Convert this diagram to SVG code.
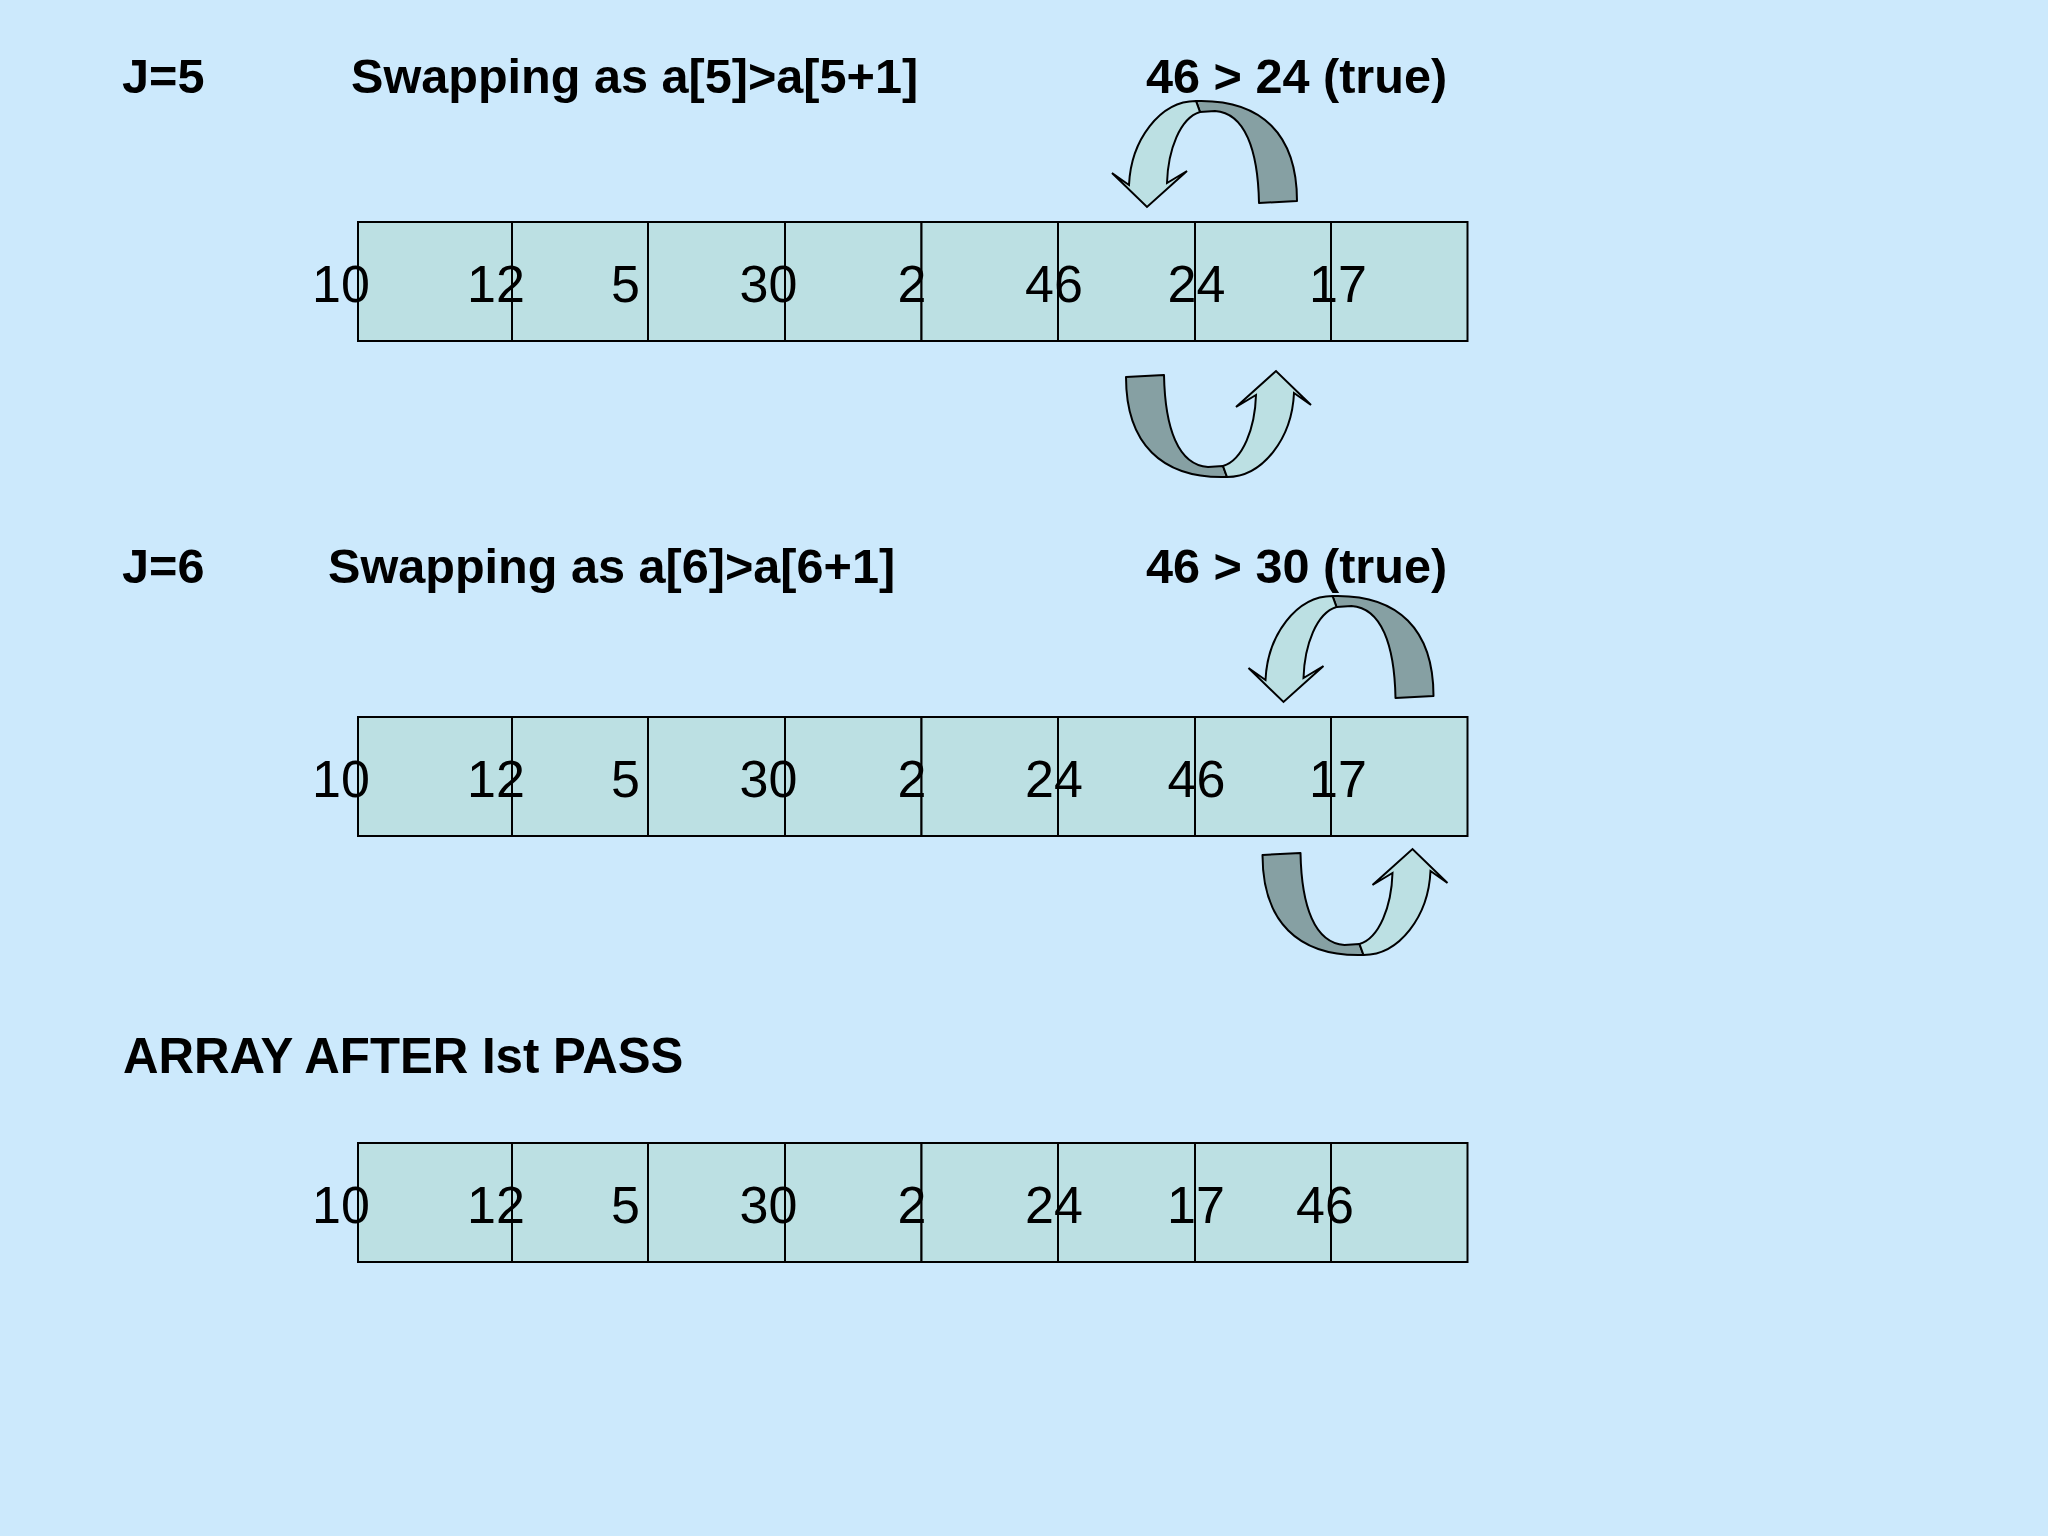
<svg xmlns="http://www.w3.org/2000/svg" width="2048" height="1536" viewBox="0 0 2048 1536">
<defs>
<style>
.bg{fill:#CCE9FC}
.cell{fill:#BCE0E3;stroke:#000;stroke-width:2}
.num{font-family:"Liberation Sans",Arial,sans-serif;font-size:52px;fill:#000}
.head{font-family:"Liberation Sans",Arial,sans-serif;font-size:48.6px;font-weight:bold;fill:#000}
.dark{fill:#86A0A3;stroke:#000;stroke-width:2;stroke-linejoin:round}
.light{fill:#BCE0E3;stroke:#000;stroke-width:2;stroke-linejoin:miter}
</style>
<g id="swapTop">
<path class="dark" d="M1196,101 C1262,99 1297,135 1297,201 L1259,203 C1258,150 1245,113 1215,111 L1200,112 Z"/>
<path class="light" d="M1129,185 L1112,173 L1147,207 L1187,171 L1167,183 C1168,150 1180,118 1200,112 L1196,101 C1160,101 1131,140 1129,185 Z"/>
</g>
<g id="cells">
<rect class="cell" x="358" y="0" width="154" height="119"/>
<rect class="cell" x="512" y="0" width="136" height="119"/>
<rect class="cell" x="648" y="0" width="137" height="119"/>
<rect class="cell" x="785" y="0" width="136.5" height="119"/>
<rect class="cell" x="921.5" y="0" width="136.5" height="119"/>
<rect class="cell" x="1058" y="0" width="137" height="119"/>
<rect class="cell" x="1195" y="0" width="136" height="119"/>
<rect class="cell" x="1331" y="0" width="136.5" height="119"/>
</g>
</defs>
<rect class="bg" x="0" y="0" width="2048" height="1536"/>

<g id="step-j5">
<text class="head" x="122" y="93">J=5</text>
<text class="head" x="351" y="93">Swapping as a[5]&gt;a[5+1]</text>
<text class="head" x="1146" y="93">46 &gt; 24 (true)</text>
</g>
<g id="array-j5">
<use href="#cells" y="222"/>
<text class="num" x="312" y="302">10</text>
<text class="num" x="467" y="302">12</text>
<text class="num" x="611" y="302">5</text>
<text class="num" x="739.5" y="302">30</text>
<text class="num" x="897.5" y="302">2</text>
<text class="num" x="1025" y="302">46</text>
<text class="num" x="1167.5" y="302">24</text>
<text class="num" x="1309" y="302">17</text>
</g>

<g id="step-j6">
<text class="head" x="122" y="583">J=6</text>
<text class="head" x="328" y="583">Swapping as a[6]&gt;a[6+1]</text>
<text class="head" x="1146" y="583">46 &gt; 30 (true)</text>
</g>
<g id="array-j6">
<use href="#cells" y="717"/>
<text class="num" x="312" y="797">10</text>
<text class="num" x="467" y="797">12</text>
<text class="num" x="611" y="797">5</text>
<text class="num" x="739.5" y="797">30</text>
<text class="num" x="897.5" y="797">2</text>
<text class="num" x="1025" y="797">24</text>
<text class="num" x="1167.5" y="797">46</text>
<text class="num" x="1309" y="797">17</text>
</g>

<g id="result">
<text class="head" x="123" y="1073" style="font-size:49.2px">ARRAY AFTER Ist PASS</text>
</g>
<g id="array-pass1">
<use href="#cells" y="1143"/>
<text class="num" x="312" y="1223">10</text>
<text class="num" x="467" y="1223">12</text>
<text class="num" x="611" y="1223">5</text>
<text class="num" x="739.5" y="1223">30</text>
<text class="num" x="897.5" y="1223">2</text>
<text class="num" x="1025" y="1223">24</text>
<text class="num" x="1167" y="1223">17</text>
<text class="num" x="1296" y="1223">46</text>
</g>

<g id="connectors">
<use href="#swapTop"/>
<use href="#swapTop" transform="rotate(180 1211.5 289)"/>
<use href="#swapTop" transform="translate(136.5 495)"/>
<use href="#swapTop" transform="translate(136.5 478) rotate(180 1211.5 289)"/>
</g>
</svg>
